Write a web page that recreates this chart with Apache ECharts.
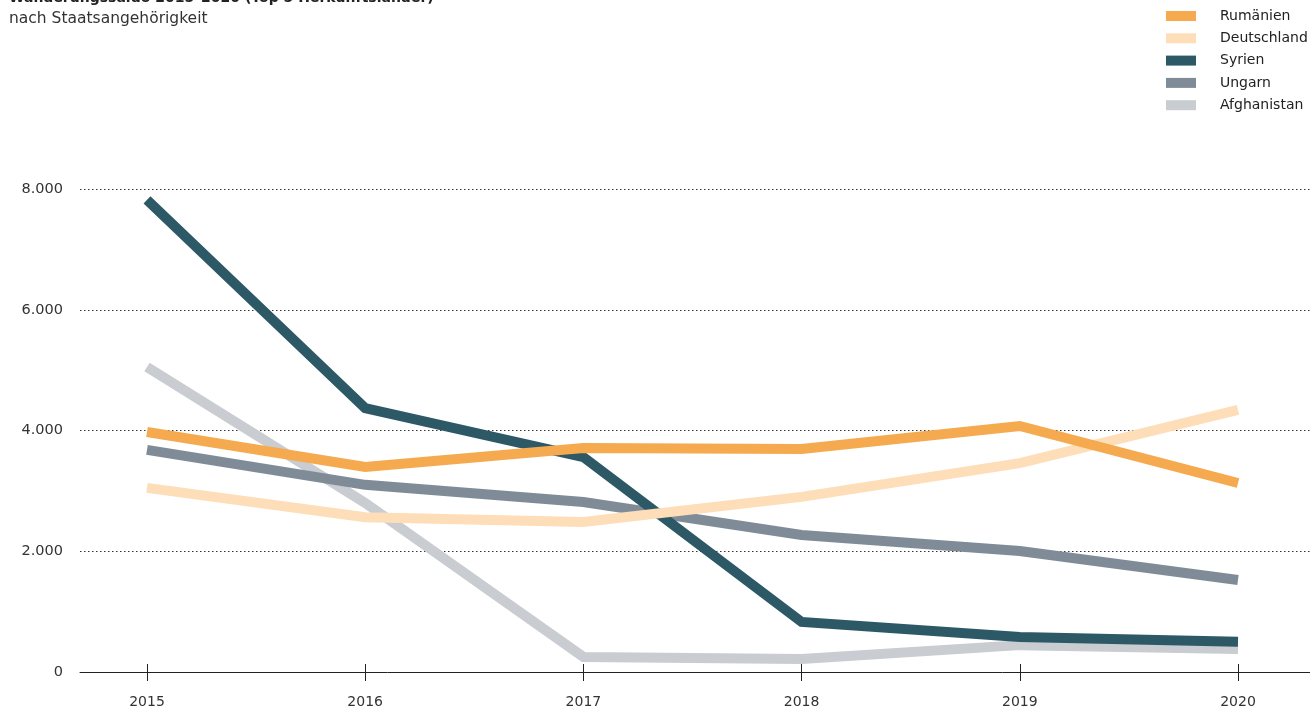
<!DOCTYPE html>
<html>
<head>
<meta charset="utf-8">
<script src="https://cdn.jsdelivr.net/npm/echarts@6/dist/echarts.min.js"></script>
<style>
html,body{margin:0;padding:0;background:#fff;}
#c{width:1310px;height:710px;}
</style>
</head>
<body>
<div id="c"></div>
<script>
const years = [2015, 2016, 2017, 2018, 2019, 2020];
const yTicks = [0, 2000, 4000, 6000, 8000];
const seriesNames = ['Rumänien', 'Deutschland', 'Syrien', 'Ungarn', 'Afghanistan'];
const rumaenien = [3975, 3395, 3710, 3695, 4075, 3130];
const deutschland = [3050, 2565, 2485, 2900, 3460, 4340];
const syrien = [7820, 4370, 3560, 830, 580, 500];
const ungarn = [3680, 3100, 2815, 2270, 2005, 1525];
const afghanistan = [5050, 2800, 250, 215, 445, 380];
const colors = ['#F5AA4F', '#FDDEB9', '#2D5967', '#7F8C97', '#C9CCD0'];

const dataSets = [rumaenien, deutschland, syrien, ungarn, afghanistan];
const font = "'DejaVu Sans', 'Noto Sans', sans-serif";

const chart = echarts.init(document.getElementById('c'), null, {renderer: 'canvas'});
chart.setOption({
  animation: false,
  color: colors,
  title: {
    text: 'Wanderungssaldo 2015–2020 (Top 5 Herkunftsländer)',
    subtext: 'nach Staatsangehörigkeit',
    left: 4,
    top: -14,
    itemGap: 6,
    textStyle: {fontFamily: font, fontSize: 14, fontWeight: 'bold', color: '#222'},
    subtextStyle: {fontFamily: font, fontSize: 15.5, color: '#333'}
  },
  legend: {
    orient: 'vertical',
    left: 1161,
    top: 4,
    itemWidth: 30,
    itemHeight: 10,
    itemGap: 8.3,
    icon: 'rect',
    data: seriesNames,
    textStyle: {fontFamily: font, fontSize: 14, color: '#222', padding: [0, 0, 0, 19]}
  },
  grid: {left: 80, right: 0, top: 189, bottom: 38},
  xAxis: [{
    type: 'value',
    min: 2014.693,
    max: 2020.33,
    axisLine: {show: true, lineStyle: {color: '#222', width: 1}},
    axisTick: {show: true, customValues: years, length: 9, lineStyle: {color: '#222', width: 1}},
    axisLabel: {customValues: years, margin: 23, fontFamily: font, fontSize: 14, color: '#333', formatter: v => String(v)},
    splitLine: {show: false}
  }, {
    type: 'value',
    position: 'bottom',
    min: 2014.693,
    max: 2020.33,
    axisLine: {show: false},
    axisTick: {show: true, inside: true, customValues: years, length: 8, lineStyle: {color: '#222', width: 1}},
    axisLabel: {show: false},
    splitLine: {show: false}
  }],
  yAxis: {
    type: 'value',
    min: 0,
    max: 8000,
    interval: 2000,
    axisLine: {show: false},
    axisTick: {show: false},
    axisLabel: {
      margin: 17,
      fontFamily: font, fontSize: 14.5, color: '#333',
      formatter: v => v === 0 ? '0' : String(v).replace(/\B(?=(\d{3})+(?!\d))/g, '.')
    },
    splitLine: {show: true, lineStyle: {type: [1.5, 2.5], color: '#333', width: 1}}
  },
  series: seriesNames.map((name, i) => ({
    name: name,
    type: 'line',
    xAxisIndex: 0,
    data: years.map((y, j) => [y, dataSets[i][j]]),
    symbol: 'none',
    lineStyle: {width: 10, color: colors[i], cap: 'butt', join: 'miter'},
    itemStyle: {color: colors[i]},
    z: 10 - i
  })).reverse()
});
</script>
</body>
</html>
